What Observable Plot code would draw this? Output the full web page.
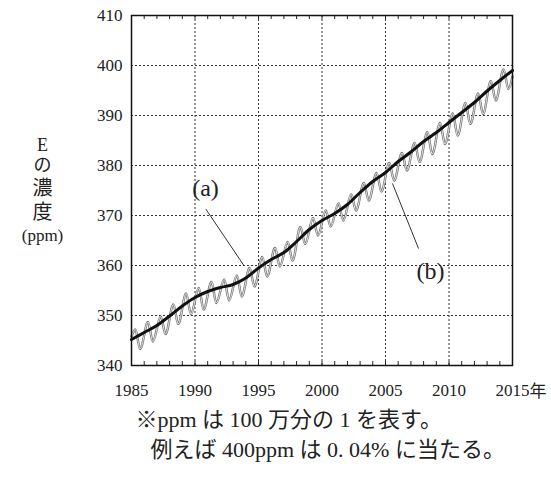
<!DOCTYPE html>
<html>
<head>
<meta charset="utf-8">
<script src="https://cdn.jsdelivr.net/npm/d3@7"></script>
<script src="https://cdn.jsdelivr.net/npm/@observablehq/plot@0.6"></script>
<style>
  html, body { margin: 0; padding: 0; background: #fff; }
  svg { font-family: "Liberation Serif", "DejaVu Serif", "Noto Sans CJK JP", serif; }
</style>
</head>
<body>
<div id="chart"></div>
<script>
// ---- data ----
const xTicks = [1985, 1990, 1995, 2000, 2005, 2010, 2015];
const yTicks = [340, 350, 360, 370, 380, 390, 400, 410];
const years = [1985,1986,1987,1988,1989,1990,1991,1992,1993,1994,1995,1996,1997,1998,1999,
               2000,2001,2002,2003,2004,2005,2006,2007,2008,2009,2010,2011,2012,2013,2014,2015];
// (a) trend, value at start of each year
const trend = [345.2,346.6,348.0,349.9,351.9,353.6,354.8,355.6,356.2,357.5,359.5,361.2,362.6,364.8,367.2,
               369.0,370.4,372.2,374.6,376.8,378.6,380.8,382.7,384.8,386.6,388.6,390.6,392.6,394.9,397.0,399.0];
// (b) observed: spring maximum and late-summer minimum of each year 1985-2014
const peakYears = years.slice(0, 30);
const peaks = [347.2,348.7,349.8,352.2,354.4,355.5,356.7,357.2,358.0,359.5,361.7,363.5,364.7,367.7,369.5,
               371.0,372.4,374.2,376.5,378.5,380.5,382.5,384.5,386.7,388.5,390.4,392.5,394.4,396.9,399.2];
const troughs = [343.3,344.8,346.3,348.3,350.3,351.2,352.5,353.0,353.8,355.8,357.8,359.8,361.0,364.3,366.0,
                 367.8,369.0,371.0,373.0,374.8,377.0,379.0,380.7,382.3,384.3,386.0,388.3,390.3,393.0,395.3];
const seasonalStart = 345.8;  // Jan 1985
const seasonalEnd = 397.8;    // Jan 2015
// annotations (data units)
const labels = [{text: "(a)", x: 1990.83, y: 375.4}, {text: "(b)", x: 2008.55, y: 358.8}];
const pointers = [{x1: 1990.85, y1: 371.3, x2: 1993.85, y2: 360.0},
                  {x1: 2005.55, y1: 376.4, x2: 2007.6, y2: 363.4}];
const yTitle = ["E", "の", "濃", "度", "(ppm)"];
const captionLines = ["※ppm は 100 万分の 1 を表す。", "例えば 400ppm は 0. 04% に当たる。"];

// ---- build tables ----
const trendData = years.map((x, i) => ({x, y: trend[i]}));
const seasonal = [{x: 1985, y: seasonalStart}];
peakYears.forEach((yr, i) => {
  seasonal.push({x: yr + 0.3, y: peaks[i]});
  seasonal.push({x: yr + 0.68, y: troughs[i]});
});
seasonal.push({x: 2015, y: seasonalEnd});

const ink = "#222";
const titleOffsets = [130, 150, 173, 197, 220];
const titleSizes = [18, 18, 20, 20, 17];

const chart = Plot.plot({
  width: 551,
  height: 477,
  marginLeft: 131,
  marginRight: 39,
  marginTop: 15,
  marginBottom: 112,
  style: {fontSize: "17px", background: "#fff", color: ink},
  x: {domain: [1985, 2015]},
  y: {domain: [340, 410]},
  marks: [
    Plot.gridX(xTicks, {stroke: "#333", strokeOpacity: 1, strokeWidth: 1, strokeDasharray: "2,2"}),
    Plot.gridY(yTicks, {stroke: "#333", strokeOpacity: 1, strokeWidth: 1, strokeDasharray: "2,2"}),
    Plot.ruleX(years, {x: d => d, y1: 340, y2: 340.8, stroke: ink, strokeWidth: 1}),
    Plot.ruleX(years, {x: d => d, y1: 409.2, y2: 410, stroke: ink, strokeWidth: 1}),
    Plot.axisY(yTicks, {tickSize: 0, tickPadding: 9, label: null, fontSize: 17}),
    Plot.axisX(xTicks, {tickSize: 0, tickPadding: 18, label: null, fontSize: 17, tickFormat: d => String(d)}),
    Plot.text(["年"], {x: 2015, y: 340, dx: 17, dy: 26, fontSize: 17, textAnchor: "start", lineAnchor: "middle", fill: ink}),
    // (b) observed monthly curve (hollow grey line)
    Plot.line(seasonal, {x: "x", y: "y", curve: "monotone-x", stroke: "#707070", strokeWidth: 2.4}),
    Plot.line(seasonal, {x: "x", y: "y", curve: "monotone-x", stroke: "#fff", strokeWidth: 0.8}),
    // (a) trend
    Plot.line(trendData, {x: "x", y: "y", curve: "catmull-rom", stroke: "#111", strokeWidth: 3}),
    Plot.link(pointers, {x1: "x1", y1: "y1", x2: "x2", y2: "y2", stroke: "#333", strokeWidth: 1}),
    Plot.text(labels, {x: "x", y: "y", text: "text", fontSize: 24, fill: ink}),
    Plot.frame({stroke: "#111", strokeWidth: 1.5}),
    // y-axis title (vertical)
    ...yTitle.map((t, i) => Plot.text([t], {frameAnchor: "top-left", dx: -89, dy: titleOffsets[i],
      textAnchor: "middle", lineAnchor: "middle", fontSize: titleSizes[i], fill: ink})),
    // caption
    Plot.text([captionLines[0]], {frameAnchor: "bottom-left", dx: 4, dy: 54, textAnchor: "start", lineAnchor: "middle", fontSize: 22, fill: ink}),
    Plot.text([captionLines[1]], {frameAnchor: "bottom-left", dx: 19, dy: 84, textAnchor: "start", lineAnchor: "middle", fontSize: 22, fill: ink})
  ]
});
document.getElementById("chart").appendChild(chart);
</script>
</body>
</html>
